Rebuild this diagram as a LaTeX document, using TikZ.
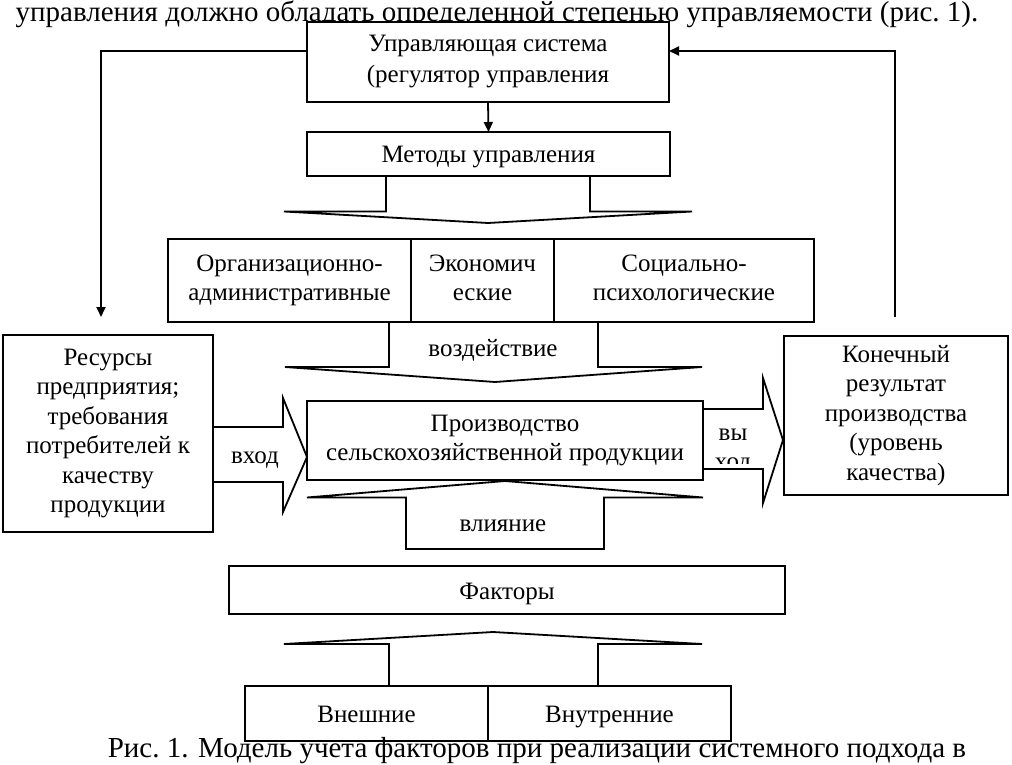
\documentclass[tikz,border=0pt]{standalone}
\usepackage{fontspec}
\setmainfont{Liberation Serif}
\usetikzlibrary{positioning,arrows.meta}
\newcommand{\bstrut}{\rule[-5.5pt]{0pt}{29pt}}

\begin{document}
\begin{tikzpicture}[x=1pt,y=-1pt,
	bstyle/.style={draw, line width=1.8pt, fill=white, inner sep=0pt, outer sep=0pt,
	align=center, font=\fontsize{25}{29.5}\selectfont,
	execute at begin node=\bstrut, execute at end node=\bstrut},
	lstyle/.style={font=\fontsize{25}{29.5}\selectfont, align=center, inner sep=0pt,
	execute at begin node=\bstrut, execute at end node=\bstrut},
	tstyle/.style={font=\fontsize{29}{34}\selectfont, inner sep=0pt},
	fat/.style={line width=1.8pt, line join=miter},
	arr/.style={line width=1.8pt, -{Triangle[length=10pt,width=9pt]}}
	]
	\useasboundingbox (0,0) rectangle (1012,765);
	\node[tstyle, anchor=base] (intro) at (497,22) {управления должно обладать определенной степенью управляемости (рис.~1).};
	
	\node[bstyle, minimum width=362pt, minimum height=80pt, font=\fontsize{25}{31}\selectfont] (ctrl) at (488,62) {Управляющая система\\(регулятор управления};
	\node[bstyle, minimum width=363pt, minimum height=44pt] (meth) at (488.5,154) {Методы управления};
	
	\node[bstyle, minimum width=243pt, minimum height=83pt] (org) at (289.5,280.5) {Организационно-\\административные};
	\node[bstyle, minimum width=143pt, minimum height=83pt, right=0pt of org] (econ) {Экономич\\еские};
	\node[bstyle, minimum width=260pt, minimum height=83pt, right=0pt of econ] (soc) {Социально-\\психологические};
	
	\node[bstyle, minimum width=210pt, minimum height=197pt] (res) at (108,433.5) {Ресурсы\\предприятия;\\требования\\потребителей к\\качеству\\продукции};
	\node[bstyle, minimum width=224pt, minimum height=159pt] (fin) at (896,415.5) {Конечный\\результат\\производства\\(уровень\\качества)};
	\node[bstyle, minimum width=396pt, minimum height=79pt] (prod) at (505,440.5) {Производство\\сельскохозяйственной продукции};
	
	\node[bstyle, minimum width=556pt, minimum height=48pt] (fact) at (507,590) {Факторы};
	\node[bstyle, minimum width=243pt, minimum height=55pt] (ext) at (366.5,713.5) {Внешние};
	\node[bstyle, minimum width=243pt, minimum height=55pt, right=0pt of ext] (int) {Внутренние};
	
	\draw[fat] (386,176) -- (386,211.5) -- (284,211.5) -- (488,223) -- (692,211.5) -- (590,211.5) -- (590,176);
	\draw[fat] (389,322) -- (389,367) -- (285,367) -- (495,382) -- (702,367) -- (598,367) -- (598,322);
	\node[lstyle] (vozd) at (493,347) {воздействие};
	
	\draw[fat] (213,427) -- (283,427) -- (283,398) -- (307,457) -- (283,512) -- (283,482) -- (213,482);
	\node[lstyle] (vhod) at (255,454) {вход};
	\draw[fat] (703,409) -- (763,409) -- (763,378) -- (783,440) -- (763,503) -- (763,469) -- (703,469);
	\begin{scope}
	\clip (703,409) rectangle (763,463);
	\node[lstyle] (vyhod) at (733,452) {вы\\ход};
	\end{scope}
	
	\draw[fat] (406,549) -- (604,549) -- (604,497.5) -- (703,497.5) -- (505,481) -- (307,497.5) -- (406,497.5) -- cycle;
	\node[lstyle] (vliyan) at (503,522) {влияние};
	\draw[fat] (389,686) -- (389,644) -- (284,644) -- (493,632) -- (702,644) -- (598,644) -- (598,686);
	
	\coordinate (resin) at (101,317);
	\coordinate (finout) at (895,317);
	\draw[arr] ([yshift=11pt]ctrl.west) -| (resin);
	\draw[arr] (finout) |- ([yshift=11pt]ctrl.east);
	\draw[arr] (ctrl.south) -- (meth.north);
	
	\node[tstyle, anchor=base] (cap) at (537,757) {Рис.~1. Модель учета факторов при реализации системного подхода в};
\end{tikzpicture}
\end{document}
